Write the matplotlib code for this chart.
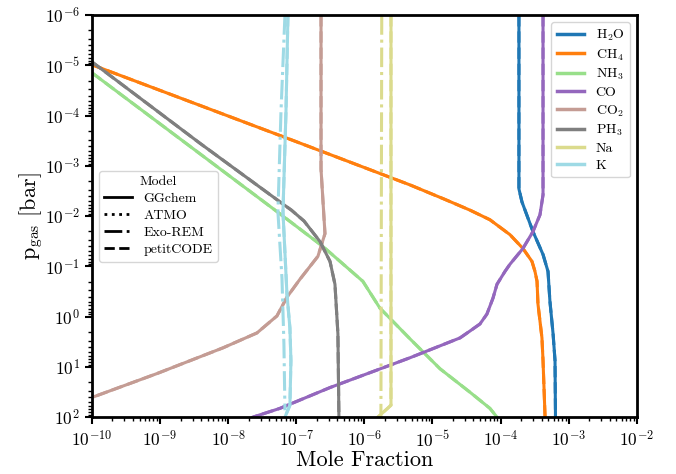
import matplotlib
matplotlib.use('Agg')
import matplotlib.pyplot as plt
import numpy as np
from matplotlib.lines import Line2D

plt.rcParams['font.family'] = 'serif'
plt.rcParams['font.serif'] = ['cmr10']
plt.rcParams['mathtext.fontset'] = 'cm'
plt.rcParams['axes.unicode_minus'] = False
plt.rcParams['axes.formatter.use_mathtext'] = True

# mole fraction (x) vs pressure in bar (y)
h2o_x = [1.86e-4, 1.86e-4, 2.06e-4, 2.99e-4, 4.2e-4, 4.97e-4, 5.3e-4, 5.9e-4, 6.3e-4, 6.4e-4]
h2o_p = [1e-6, 2.87e-3, 5.2e-3, 2.03e-2, 5.8e-2, 0.126, 0.49, 2.2, 7.5, 100]

ch4_x = [1e-10, 8.07e-8, 4.68e-6, 1.5e-5, 3.56e-5, 6.98e-5, 1.37e-4, 2.13e-4, 2.89e-4, 3.2e-4,
         3.43e-4, 3.54e-4, 4.05e-4, 4.2e-4, 4.5e-4]
ch4_p = [9.7e-6, 2.95e-4, 2.39e-3, 4.6e-3, 7.6e-3, 1.18e-2, 2.33e-2, 4.4e-2, 7.96e-2, 0.126,
         0.198, 0.56, 2.65, 7.5, 100]

nh3_x = [1e-10, 5.75e-8, 2.47e-7, 9.5e-7, 1.69e-6, 4.68e-6, 1.29e-5, 3.56e-5, 6.98e-5, 8.85e-5]
nh3_p = [1.4e-5, 8.97e-3, 4.03e-2, 0.198, 0.676, 2.77, 10.9, 32, 67, 100]

co_x = [4.2e-4, 4.2e-4, 3.79e-4, 2.99e-4, 2.13e-4, 1.37e-4, 1.16e-4, 8.86e-5, 7.73e-5, 6.3e-5,
        4.98e-5, 3.56e-5, 2.54e-5, 4.68e-6, 3.13e-7, 5.75e-8, 2.31e-8]
co_p = [1e-6, 3.77e-3, 9.4e-3, 2.03e-2, 4.4e-2, 9.1e-2, 0.126, 0.227, 0.43, 0.89,
        1.4, 1.93, 2.65, 6.58, 25.8, 67, 100]

co2_x = [2.31e-7, 2.31e-7, 2.64e-7, 2.08e-7, 1.13e-7, 7.3e-8, 5.2e-8, 2.65e-8, 8.4e-9, 9.0e-10, 1e-10]
co2_p = [1e-6, 1.16e-3, 2.23e-2, 6.3e-2, 0.181, 0.41, 0.97, 2.11, 4.18, 13.6, 40.6]

ph3_x = [1e-10, 3.86e-9, 2.09e-8, 5.75e-8, 8.5e-8, 1.3e-7, 2.23e-7, 3.13e-7, 3.7e-7, 4.09e-7, 4.23e-7]
ph3_p = [8.5e-6, 3.55e-4, 1.9e-3, 5.19e-3, 7.6e-3, 1.25e-2, 3.2e-2, 7.96e-2, 0.227, 2.21, 100]

na_x = [2.46e-6, 2.46e-6, 1.58e-6]
na_p = [1e-6, 58, 100]
na_x_exo = [1.8e-6, 1.75e-6]
na_p_exo = [1e-6, 100]

k_x = [7.55e-8, 7.06e-8, 6.38e-8, 7.3e-8, 8.07e-8, 8.35e-8, 8.07e-8, 6.82e-8]
k_p = [1e-6, 8.65e-5, 8.2e-3, 0.357, 1.68, 7.5, 58, 100]
k_x_exo = [6.82e-8, 5.96e-8, 5.38e-8, 6.17e-8, 6.59e-8, 6.82e-8]
k_p_exo = [1e-6, 8.65e-5, 8.2e-3, 0.173, 3.48, 73]

species = ['H$_2$O', 'CH$_4$', 'NH$_3$', 'CO', 'CO$_2$', 'PH$_3$', 'Na', 'K']
colors = ['#1f77b4', '#ff7f0e', '#98df8a', '#9467bd', '#c49c94', '#7f7f7f', '#dbdb8d', '#9edae5']
xs = [h2o_x, ch4_x, nh3_x, co_x, co2_x, ph3_x, na_x, k_x]
ps = [h2o_p, ch4_p, nh3_p, co_p, co2_p, ph3_p, na_p, k_p]

models = ['GGchem', 'ATMO', 'Exo-REM', 'petitCODE']
styles = ['-', ':', '-.', '--']

fig = plt.figure(figsize=(6.76, 4.74), dpi=100)
ax = fig.add_axes([0.136, 0.120, 0.806, 0.848])

for x, p, c in zip(xs, ps, colors):
    ax.plot(x, p, color=c, lw=2.2, ls='-')
    ax.plot(x, p, color=c, lw=2.2, ls='--')
ax.plot(na_x_exo, na_p_exo, color=colors[6], lw=2.2, ls='-.')
ax.plot(k_x_exo, k_p_exo, color=colors[7], lw=2.2, ls='-.')

ax.set_xscale('log')
ax.set_yscale('log')
ax.set_xlim(1e-10, 1e-2)
ax.set_ylim(1e2, 1e-6)
ax.set_xlabel('Mole Fraction', fontsize=16, labelpad=1)
ax.set_ylabel(r'p$_{\rm gas}$ [bar]', fontsize=16, labelpad=0)
ax.tick_params(labelsize=12.5, width=1.5, length=5, direction='out')
ax.tick_params(which='minor', width=1, length=3)
for s in ax.spines.values():
    s.set_linewidth(2)

h1 = [Line2D([0], [0], color=c, lw=2.5) for c in colors]
leg1 = ax.legend(h1, species, loc='upper right', fontsize=10, labelspacing=0.3)
ax.add_artist(leg1)
h2 = [Line2D([0], [0], color='k', lw=2, ls=s) for s in styles]
ax.legend(h2, models, loc='center left', fontsize=10, title='Model', title_fontsize=10,
          labelspacing=0.3)

fig.savefig('out.png', dpi=100)
